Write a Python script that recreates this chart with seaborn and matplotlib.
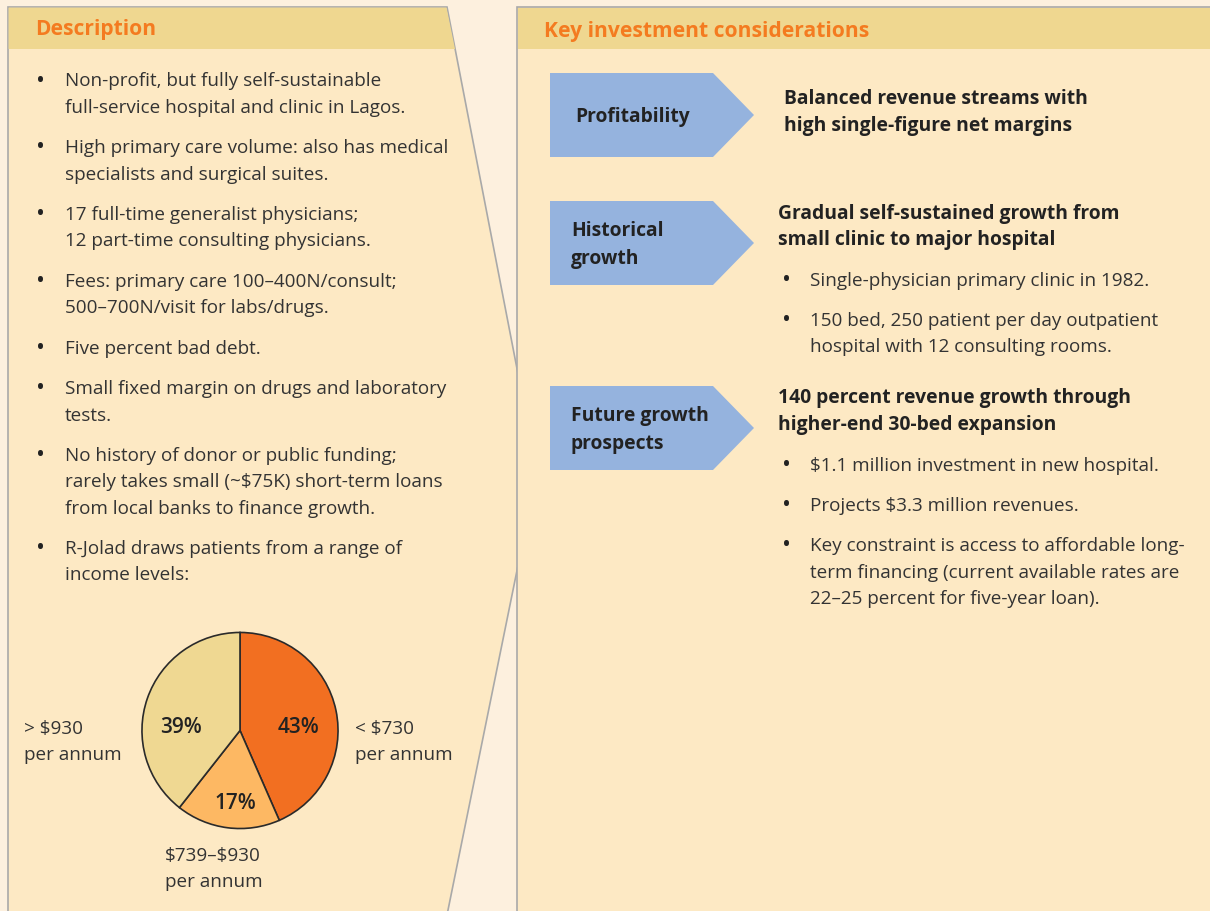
import matplotlib
matplotlib.use("Agg")
import matplotlib.pyplot as plt
import seaborn as sns
from matplotlib.patches import Polygon, Rectangle

sns.set_theme(style="white")
plt.rcParams['font.family'] = ['Open Sans', 'DejaVu Sans']
plt.rcParams['text.parse_math'] = False

# ---------------- data ----------------
pie_values = [43, 17, 39]
pie_pct_labels = ["43%", "17%", "39%"]
pie_colors = ["#F26F21", "#FDB863", "#EFD892"]
income_labels = ["< $730\nper annum", "$739–$930\nper annum", "> $930\nper annum"]

left_title = "Description"
right_title = "Key investment considerations"

left_bullets = [
    ["Non-profit, but fully self-sustainable", "full-service hospital and clinic in Lagos."],
    ["High primary care volume: also has medical", "specialists and surgical suites."],
    ["17 full-time generalist physicians;", "12 part-time consulting physicians."],
    ["Fees: primary care 100–400N/consult;", "500–700N/visit for labs/drugs."],
    ["Five percent bad debt."],
    ["Small fixed margin on drugs and laboratory", "tests."],
    ["No history of donor or public funding;", "rarely takes small (~$75K) short-term loans",
     "from local banks to finance growth."],
    ["R-Jolad draws patients from a range of", "income levels:"],
]

chevron_labels = ["Profitability", "Historical\ngrowth", "Future growth\nprospects"]
section_heads = [
    ["Balanced revenue streams with", "high single-figure net margins"],
    ["Gradual self-sustained growth from", "small clinic to major hospital"],
    ["140 percent revenue growth through", "higher-end 30-bed expansion"],
]
section_bullets = [
    [],
    [["Single-physician primary clinic in 1982."],
     ["150 bed, 250 patient per day outpatient", "hospital with 12 consulting rooms."]],
    [["$1.1 million investment in new hospital."],
     ["Projects $3.3 million revenues."],
     ["Key constraint is access to affordable long-", "term financing (current available rates are",
      "22–25 percent for five-year loan)."]],
]

# ---------------- style ----------------
W, H = 1210, 911
BG = "#FDF0DE"
PANEL = "#FDE9C4"
BAND = "#EFD790"
BLUE = "#95B3DE"
ORANGE = "#F47B20"
GREY = "#A9A9A9"
TXT = "#333333"
DARK = "#222222"
LH = 26.2   # line height in px
FS = 13.6
FSB = 13.9
BUL = 17

fig = plt.figure(figsize=(W / 100, H / 100), dpi=100)
fig.patch.set_facecolor(BG)
ax = fig.add_axes([0, 0, 1, 1])
ax.set_xlim(0, W)
ax.set_ylim(H, 0)
ax.axis("off")

# left panel
ax.add_patch(Polygon([(8, 7), (447, 7), (537, 472), (447, 915), (8, 915)],
                     closed=True, facecolor=PANEL, edgecolor=GREY, lw=1.2))
ax.add_patch(Polygon([(8.6, 7.6), (446.5, 7.6), (455, 49), (8.6, 49)],
                     closed=True, facecolor=BAND, edgecolor="none"))
# right panel
ax.add_patch(Rectangle((517, 7), 700, 910, facecolor=PANEL, edgecolor=GREY, lw=1.2))
ax.add_patch(Rectangle((517.6, 7.6), 700, 41.4, facecolor=BAND, edgecolor="none"))

ax.text(35, 29.5, left_title, color=ORANGE, fontsize=15.1, fontweight="bold", va="center", ha="left")
ax.text(544, 31.5, right_title, color=ORANGE, fontsize=15.1, fontweight="bold", va="center", ha="left")

# left bullets
y = 81.5
for item in left_bullets:
    ax.text(40, y, "•", fontsize=BUL, color=DARK, va="center", ha="center")
    for j, line in enumerate(item):
        ax.text(65, y + j * LH, line, fontsize=FS, color=TXT, va="center", ha="left")
    y += len(item) * LH + 14.4

# chevrons
chev_tops = [73, 201, 386]
for top, lab in zip(chev_tops, chevron_labels):
    bot = top + 84
    ax.add_patch(Polygon([(550, top), (713, top), (754, (top + bot) / 2), (713, bot), (550, bot)],
                         closed=True, facecolor=BLUE, edgecolor="none"))
    x0 = 575 if "\n" not in lab else 571
    ax.text(x0, (top + bot) / 2 + 2, lab, fontsize=FSB, fontweight="bold", color=DARK,
            va="center", ha="left", linespacing=1.48)

# right side sections
head_x = [784, 778, 778]
head_y = [99.5, 213.5, 398.5]
for hx, hy, head, bl in zip(head_x, head_y, section_heads, section_bullets):
    for j, line in enumerate(head):
        ax.text(hx, hy + j * LH, line, fontsize=FSB, fontweight="bold", color=DARK, va="center", ha="left")
    yy = hy + len(head) * LH + 15
    for item in bl:
        ax.text(787, yy, "•", fontsize=BUL, color=DARK, va="center", ha="center")
        for j, line in enumerate(item):
            ax.text(810, yy + j * LH, line, fontsize=FS, color=TXT, va="center", ha="left")
        yy += len(item) * LH + 14

# pie chart
cx, cy, r = 240, 730.5, 100
pax = fig.add_axes([(cx - r) / W, (H - cy - r) / H, 2 * r / W, 2 * r / H])
wedges, _ = pax.pie(pie_values, colors=pie_colors, startangle=90, counterclock=False,
                    wedgeprops=dict(edgecolor="#2a2a2a", linewidth=1.2))
pax.set_xlim(-1.02, 1.02)
pax.set_ylim(-1.02, 1.02)
pax.set_aspect("equal")
pax.axis("off")

# percent labels inside the pie (positions given in px, converted to pie units)
pct_pos = [(300, 727), (235, 805), (180, 727)]
for (px, py), lab in zip(pct_pos, pie_pct_labels):
    pax.text((px - cx) / r, (cy - py) / r, lab, fontsize=15, fontweight="semibold", color=DARK,
             va="center", ha="center")

inc_pos = [(355, 742), (165, 869), (24, 742)]
for (px, py), lab in zip(inc_pos, income_labels):
    ax.text(px, py, lab, fontsize=FS, color=TXT, va="center", ha="left", linespacing=1.6)

fig.savefig("out.png", dpi=100, facecolor=BG)
